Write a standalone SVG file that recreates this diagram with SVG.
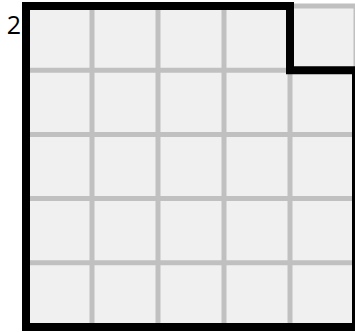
<svg xmlns="http://www.w3.org/2000/svg" width="355" height="332" viewBox="0 0 355 332">
<style>
.grid{stroke:#c0c0c0;stroke-width:5;fill:none}
.border{stroke:#000;stroke-width:8;fill:none;stroke-linejoin:miter}
.lbl{font-family:"Open Sans","Liberation Sans",sans-serif;font-size:25px;fill:#000}
</style>
<rect width="355" height="332" fill="#fff"/>
<g id="board">
<rect x="26" y="6" width="330" height="321" fill="#f0f0f0"/>
<g class="grid">
<path d="M26 6V327M92 6V327M158 6V327M224 6V327M290 6V327M356 6V327"/>
<path d="M26 6H356M26 70.2H356M26 134.4H356M26 198.6H356M26 262.8H356M26 327H356"/>
</g>
<path class="border" d="M360 70.2H290V6H26V327H356V70.2"/>
</g>
<g id="label"><text class="lbl" x="21" y="34" text-anchor="end">2</text></g>
<g id="connectors"/>
</svg>
